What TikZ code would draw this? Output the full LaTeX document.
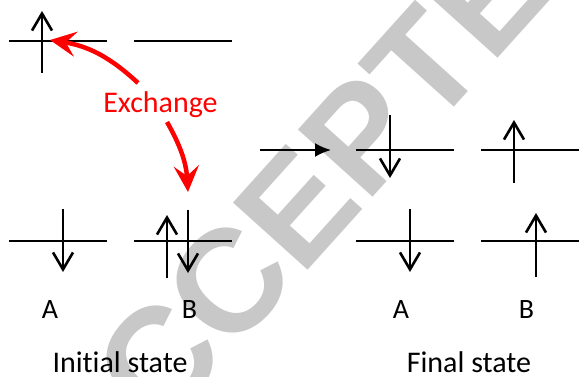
\documentclass[tikz,border=0pt]{standalone}
\usepackage{fontspec}
\setmainfont{Carlito}[Ligatures={CommonOff}]
\newfontfamily\wmfont{Liberation Sans}
\usetikzlibrary{arrows.meta}
\definecolor{wmgray}{RGB}{200,200,200}
\definecolor{exred}{RGB}{255,0,0}
\tikzset{
  level/.style={line width=2pt},
  spin/.style={line width=2.6pt,-{Straight Barb[length=17pt,width=20pt,line width=2.6pt]}},
  xarrow/.style={line width=4.5pt,exred,-{Stealth[length=26pt,width=25pt,inset=10pt]}},
  goarrow/.style={line width=2.2pt,-{Latex[length=16pt,width=14pt]}},
  bigtxt/.style={inner sep=0pt,anchor=base,font=\fontsize{30}{36}\selectfont},
  lbl/.style={inner sep=0pt,anchor=base,font=\fontsize{28}{32}\selectfont},
  wm/.style={inner sep=0pt,text=wmgray,font=\wmfont\bfseries\fontsize{146}{160}\selectfont}
}
\begin{document}
\begin{tikzpicture}[x=1pt,y=1pt]
\useasboundingbox (0,0) rectangle (579,-377);
% watermark
\node[wm,rotate=48] (wm) at (321,-180) {ACCEPTED};
% ---- initial state ----
\coordinate (iTAl) at (9,-41);   \coordinate (iTAr) at (107,-41);
\coordinate (iTBl) at (134,-41); \coordinate (iTBr) at (232,-41);
\coordinate (iBAl) at (9,-241);  \coordinate (iBAr) at (107,-241);
\coordinate (iBBl) at (134,-241);\coordinate (iBBr) at (232,-241);
\draw[level] (iTAl) -- (iTAr);
\draw[level] (iTBl) -- (iTBr);
\draw[level] (iBAl) -- (iBAr);
\draw[level] (iBBl) -- (iBBr);
\coordinate (s1a) at (42,-73);  \coordinate (s1b) at (42,-11);
\coordinate (s2a) at (63,-209); \coordinate (s2b) at (63,-272);
\coordinate (s3a) at (167,-278);\coordinate (s3b) at (167,-215);
\coordinate (s4a) at (188,-210);\coordinate (s4b) at (188,-273);
\draw[spin] (s1a) -- (s1b);
\draw[spin] (s2a) -- (s2b);
\draw[spin] (s3a) -- (s3b);
\draw[spin] (s4a) -- (s4b);
% exchange
\node[bigtxt,text=exred] (ex) at (160.5,-113) {Exchange};
\coordinate (e1s) at (138,-83);  \coordinate (e1e) at (50,-40);
\coordinate (e2s) at (167,-122); \coordinate (e2e) at (188,-192);
\draw[xarrow] (e1s) to[bend right=17] (e1e);
\draw[xarrow] (e2s) to[bend left=13] (e2e);
\node[lbl] (iA) at (50,-318) {A};
\node[lbl] (iB) at (189.5,-318) {B};
\node[bigtxt] (init) at (120,-372) {Init\kern0pt ial state};
% ---- transition arrow ----
\coordinate (g1) at (260,-150); \coordinate (g2) at (331,-150);
\draw[goarrow] (g1) -- (g2);
% ---- final state ----
\coordinate (fTAl) at (356,-150); \coordinate (fTAr) at (454,-150);
\coordinate (fTBl) at (481,-150); \coordinate (fTBr) at (579,-150);
\coordinate (fBAl) at (356,-241); \coordinate (fBAr) at (454,-241);
\coordinate (fBBl) at (481,-241); \coordinate (fBBr) at (579,-241);
\draw[level] (fTAl) -- (fTAr);
\draw[level] (fTBl) -- (fTBr);
\draw[level] (fBAl) -- (fBAr);
\draw[level] (fBBl) -- (fBBr);
\coordinate (t1a) at (390,-115); \coordinate (t1b) at (390,-178);
\coordinate (t2a) at (514,-183); \coordinate (t2b) at (514,-120);
\coordinate (t3a) at (410,-209); \coordinate (t3b) at (410,-272);
\coordinate (t4a) at (536,-277); \coordinate (t4b) at (536,-213);
\draw[spin] (t1a) -- (t1b);
\draw[spin] (t2a) -- (t2b);
\draw[spin] (t3a) -- (t3b);
\draw[spin] (t4a) -- (t4b);
\node[lbl] (fA) at (401,-318) {A};
\node[lbl] (fB) at (526.5,-318) {B};
\node[bigtxt] (fin) at (469,-372) {Final state};
\end{tikzpicture}
\end{document}
